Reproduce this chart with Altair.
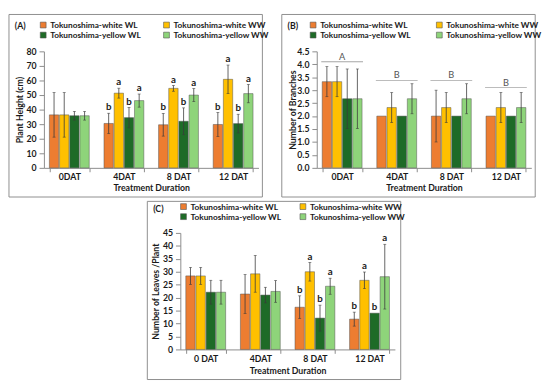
import altair as alt
import pandas as pd

FONT = "Lato"

series = ["Tokunoshima-white WL", "Tokunoshima-white WW",
          "Tokunoshima-yellow WL", "Tokunoshima-yellow WW"]
fill_colors = ["#ED7D31", "#FFC000", "#1E6B27", "#8ED47A"]
# legend fills column by column, so list entries in that order
legend_order = [0, 2, 1, 3]

cats_ab = ["0DAT", "4DAT", "8 DAT", "12 DAT"]
cats_c = ["0 DAT", "4DAT", "8 DAT", "12 DAT"]

# Panel A: plant height (cm); rows = series, columns = categories
height_mean = [[36.4, 30.5, 29.6, 29.8],
               [36.4, 51.3, 54.6, 60.8],
               [35.8, 34.5, 32.0, 30.4],
               [35.8, 46.2, 50.0, 51.0]]
height_err = [[15.3, 7.0, 7.8, 8.2],
              [15.3, 3.4, 2.0, 9.8],
              [3.0, 7.0, 9.2, 6.4],
              [3.0, 4.5, 4.5, 6.3]]
height_sig = [["", "b", "b", "b"],
              ["", "a", "a", "a"],
              ["", "b", "b", "b"],
              ["", "a", "a", "a"]]

# Panel B: number of branches
branch_mean = [[3.33, 2.0, 2.0, 2.0],
               [3.33, 2.33, 2.33, 2.33],
               [2.67, 2.0, 2.0, 2.0],
               [2.67, 2.67, 2.67, 2.33]]
branch_err = [[0.58, 0.0, 1.0, 0.0],
              [0.58, 0.58, 0.58, 0.58],
              [1.15, 0.0, 0.0, 0.0],
              [1.15, 0.58, 0.58, 0.58]]
branch_sig = [["", "", "", ""]] * 4
branch_group_letter = ["A", "B", "B", "B"]
branch_group_y = [4.1, 3.38, 3.38, 3.1]

# Panel C: number of leaves per plant
leaf_mean = [[28.4, 21.4, 16.3, 11.7],
             [28.4, 29.2, 30.0, 26.7],
             [22.1, 21.0, 12.1, 14.0],
             [22.1, 22.4, 24.4, 28.1]]
leaf_err = [[3.3, 7.5, 4.4, 2.7],
            [3.3, 7.1, 3.6, 3.2],
            [4.6, 3.0, 5.0, 0.0],
            [4.6, 4.2, 3.1, 12.5]]
leaf_sig = [["", "", "b", "b"],
            ["", "", "a", "a"],
            ["", "", "b", "b"],
            ["", "", "a", "a"]]

W, H = 221, 120
AXIS_COLOR = "#8a8a8a"
TEXT_COLOR = "#1a1a1a"
FS = 9
LFS = 8.5


def make_panel(cats, means, errs, sigs, ymax, ystep, yfmt, ytitle, plabel,
               leg_x, leg_y, col_pad, lab_y, box, xtitle_y, groups=None):
    rows = []
    for i, s in enumerate(series):
        for j, c in enumerate(cats):
            m, e = means[i][j], errs[i][j]
            rows.append(dict(cat=c, ser=s, v=m, lo=m - e, hi=m + e,
                             e=e, sig=sigs[i][j]))
    df = pd.DataFrame(rows)

    nvals = int(round(ymax / ystep))
    yvals = [round(k * ystep, 2) for k in range(nvals + 1)]

    x = alt.X("cat:N", sort=cats,
              scale=alt.Scale(paddingInner=0.27, paddingOuter=0.1),
              title="Treatment Duration",
              axis=alt.Axis(labelAngle=0, labelFont=FONT, labelFontSize=FS,
                            labelFontWeight="bold", labelColor=TEXT_COLOR,
                            labelPadding=1.5, tickSize=4, tickBand="extent",
                            tickColor=AXIS_COLOR, domainColor=AXIS_COLOR,
                            titleFont=FONT, titleFontSize=FS,
                            titleFontWeight="bold", titleColor=TEXT_COLOR,
                            titleX=W / 2, titleY=xtitle_y,
                            titleBaseline="middle", titleAlign="center"))
    xo = alt.XOffset("ser:N", sort=series, scale=alt.Scale(paddingInner=0.08))

    def yenc(field):
        return alt.Y(field, scale=alt.Scale(domain=[0, ymax], nice=False),
                     title=ytitle,
                     axis=alt.Axis(values=yvals, format=yfmt, grid=False,
                                   labelFont=FONT, labelFontSize=FS,
                                   labelFontWeight="bold",
                                   labelColor=TEXT_COLOR, labelPadding=3,
                                   tickSize=5, tickColor=AXIS_COLOR,
                                   domainColor=AXIS_COLOR,
                                   titleFont=FONT, titleFontSize=FS,
                                   titleFontWeight="bold",
                                   titleColor=TEXT_COLOR,
                                   titleX=-25, titleY=H / 2, titleAngle=270,
                                   titleAlign="center",
                                   titleBaseline="middle"))

    legend = alt.Legend(orient="none", legendX=leg_x, legendY=leg_y,
                        columns=2, columnPadding=col_pad, rowPadding=1.5,
                        gridAlign="all", padding=0,
                        symbolType="square", symbolSize=36,
                        symbolStrokeColor="#555555", symbolStrokeWidth=0.6,
                        labelFont=FONT, labelFontSize=LFS,
                        labelFontWeight="bold", labelColor=TEXT_COLOR,
                        labelOffset=3, labelLimit=200)

    base = alt.Chart(df)
    bars = base.mark_bar(stroke="#505050", strokeWidth=0.5).encode(
        x=x, xOffset=xo, y=yenc("v:Q"),
        fill=alt.Fill("ser:N", title=None,
                      scale=alt.Scale(domain=[series[k] for k in legend_order],
                                      range=[fill_colors[k] for k in legend_order]),
                      legend=legend))
    errdf = base.transform_filter("datum.e > 0")
    err = errdf.mark_rule(color="#3a3a3a", strokeWidth=0.8).encode(
        x=x, xOffset=xo, y=yenc("lo:Q"), y2="hi:Q")
    cap_hi = errdf.mark_tick(color="#3a3a3a", size=3, thickness=0.8,
                             orient="horizontal").encode(
        x=x, xOffset=xo, y=yenc("hi:Q"))
    cap_lo = errdf.mark_tick(color="#3a3a3a", size=3, thickness=0.8,
                             orient="horizontal").encode(
        x=x, xOffset=xo, y=yenc("lo:Q"))
    letters = base.transform_filter("datum.sig != ''").mark_text(
        dy=-6, font=FONT, fontSize=10, fontWeight="bold",
        color=TEXT_COLOR).encode(x=x, xOffset=xo, y=yenc("hi:Q"),
                                 text="sig:N")

    frame = alt.Chart(alt.Data(values=[{}])).mark_rect(
        fillOpacity=0, stroke="#8c8c8c", strokeWidth=1).encode(
        x=alt.value(box[0]), x2=alt.value(box[1]),
        y=alt.value(box[2]), y2=alt.value(box[3]))
    lab = alt.Chart(alt.Data(values=[{"t": plabel}])).mark_text(
        font=FONT, fontSize=FS, fontWeight="bold", color=TEXT_COLOR,
        align="left", baseline="middle").encode(
        x=alt.value(box[0] + 6), y=alt.value(lab_y), text="t:N")

    layers = [frame, bars, err, cap_hi, cap_lo, letters, lab]

    if groups is not None:
        gdf = pd.DataFrame(dict(cat=cats, gy=groups[1], g=groups[0]))
        gbase = alt.Chart(gdf)
        glines = gbase.mark_tick(color="#808080", size=43, thickness=1,
                                 orient="horizontal").encode(
            x=x, y=yenc("gy:Q"))
        gtext = gbase.mark_text(dy=-5, font=FONT, fontSize=9.5,
                                color="#555555").encode(
            x=x, y=yenc("gy:Q"), text="g:N")
        layers += [glines, gtext]

    return alt.layer(*layers).properties(width=W, height=H)


pA = make_panel(cats_ab, height_mean, height_err, height_sig, 80, 10, "d",
                "Plant Height (cm)", "(A)", -5, -31.5, 17, -26,
                (-36, 225, -38, H + 30), 20)
pB = make_panel(cats_ab, branch_mean, branch_err, branch_sig, 4.5, 0.5,
                ".1f", "Number of Branches", "(B)", -8, -31.5, 20, -26,
                (-36, 225, -38, H + 30), 20,
                groups=(branch_group_letter, branch_group_y))
pC = make_panel(cats_c, leaf_mean, leaf_err, leaf_sig, 45, 5, "d",
                "Number of Leaves /Plant", "(C)", -1, -31.5, 13, -25,
                (-34, 227, -32.5, H + 31), 22)

top = alt.hconcat(pA, pB, spacing=12).resolve_scale(
    fill="independent").resolve_legend(fill="independent")

chart = alt.vconcat(top, pC, spacing=3, center=True).resolve_scale(
    fill="independent").resolve_legend(fill="independent").properties(
    padding=0).configure_view(strokeWidth=0)

chart.save("out.html", embed_options={"renderer": "svg", "actions": False})
